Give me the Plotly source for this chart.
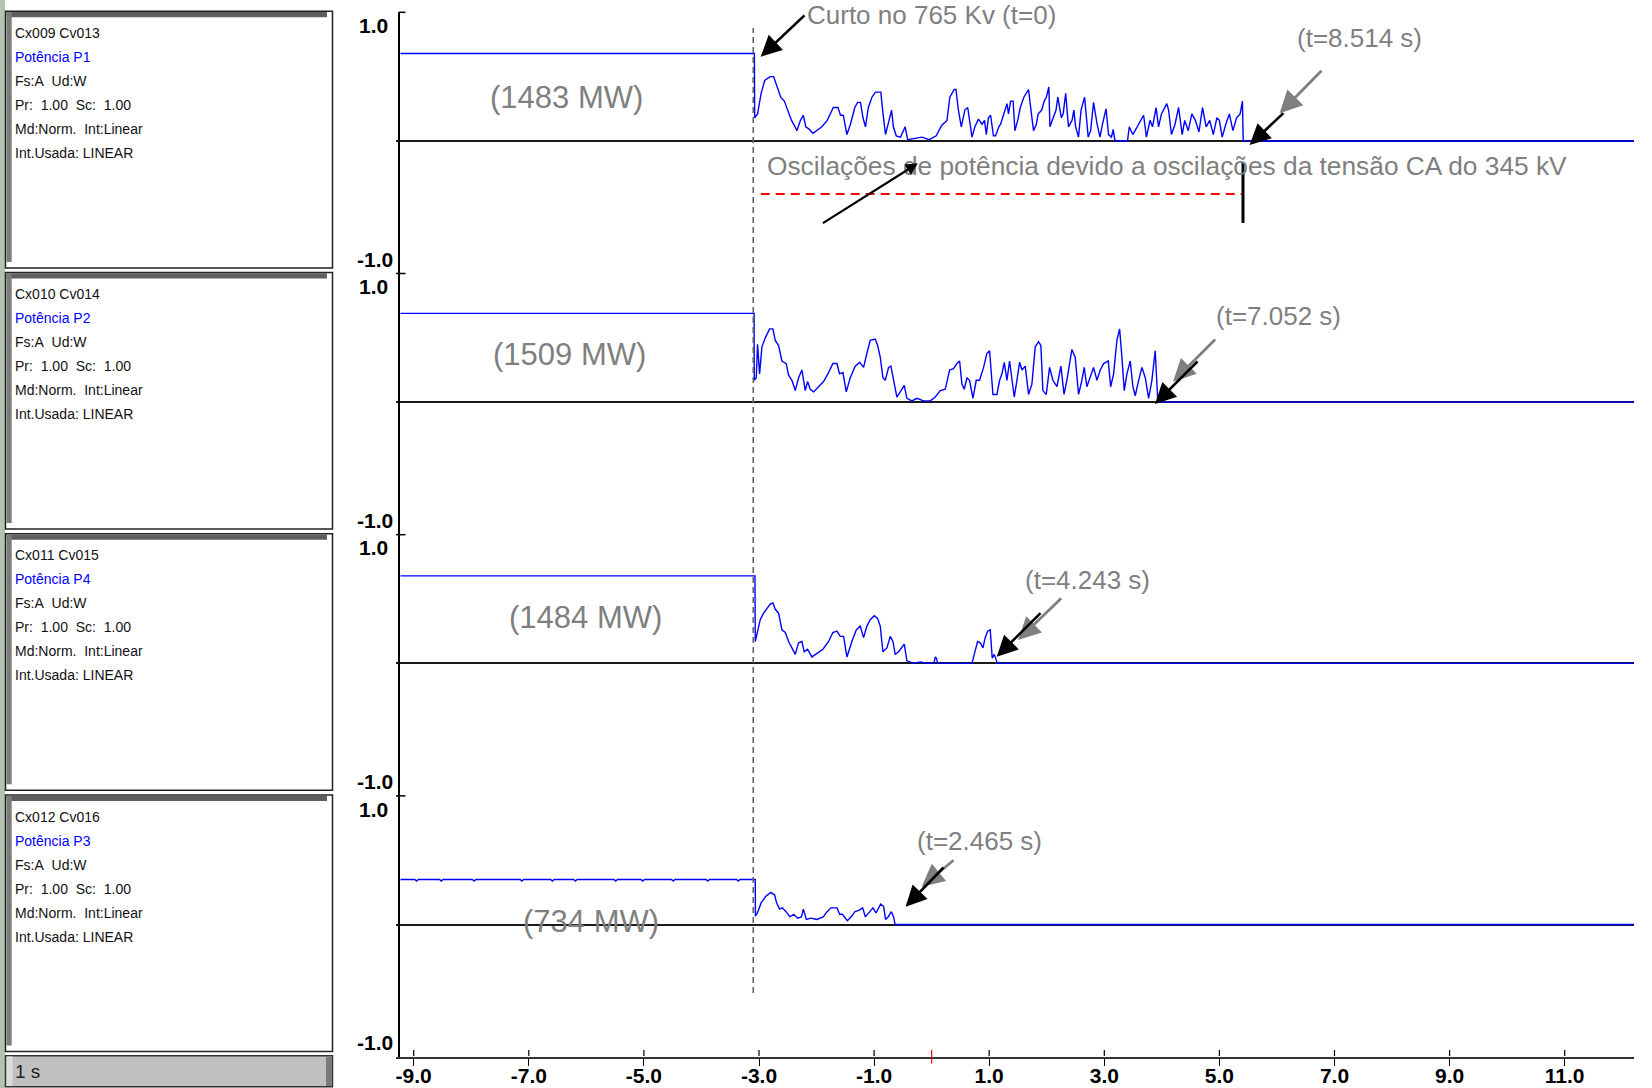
import plotly.graph_objects as go

W, H = 1652, 1088
FIG_H = 1097             # figure height used for the pixel -> paper mapping
FAULT_X = -3.10          # recorder time of the 765 kV fault (t = 0)

# ---------------- data (t in s after the fault, value in p.u. of full scale) -------------
p1_points = [(-6.13, 0.68), (0.02, 0.68), (0.025, 0.18), (0.075, 0.21), (0.137, 0.37), (0.199, 0.47),
             (0.292, 0.50), (0.354, 0.50), (0.416, 0.42), (0.478, 0.34), (0.540, 0.31), (0.602, 0.24),
             (0.665, 0.16), (0.727, 0.11), (0.758, 0.08), (0.820, 0.16), (0.870, 0.20), (0.913, 0.11),
             (0.975, 0.09), (1.037, 0.06), (1.099, 0.08), (1.193, 0.11), (1.286, 0.16), (1.391, 0.26),
             (1.472, 0.26), (1.516, 0.20), (1.565, 0.20), (1.627, 0.05), (1.689, 0.13), (1.764, 0.26),
             (1.814, 0.30), (1.863, 0.30), (1.907, 0.18), (1.950, 0.11), (2.000, 0.26), (2.062, 0.34),
             (2.124, 0.38), (2.217, 0.38), (2.248, 0.24), (2.298, 0.05), (2.360, 0.16), (2.404, 0.24),
             (2.435, 0.11), (2.484, 0.04), (2.559, 0.03), (2.640, 0.11), (2.683, 0.01), (2.807, 0.02),
             (2.932, 0.03), (3.056, 0.01), (3.180, 0.04), (3.273, 0.12), (3.366, 0.16), (3.416, 0.34),
             (3.491, 0.40), (3.522, 0.40), (3.565, 0.24), (3.615, 0.11), (3.677, 0.24), (3.727, 0.26),
             (3.770, 0.11), (3.801, 0.03), (3.851, 0.11), (3.913, 0.17), (3.975, 0.13), (4.019, 0.16),
             (4.050, 0.05), (4.087, 0.18), (4.124, 0.20), (4.174, 0.04), (4.211, 0.04), (4.267, 0.11),
             (4.298, 0.13), (4.360, 0.21), (4.410, 0.29), (4.435, 0.21), (4.472, 0.31), (4.516, 0.31),
             (4.547, 0.08), (4.596, 0.16), (4.640, 0.26), (4.702, 0.34), (4.783, 0.40), (4.826, 0.24),
             (4.870, 0.08), (4.919, 0.13), (4.950, 0.21), (5.012, 0.24), (5.056, 0.31), (5.093, 0.34),
             (5.137, 0.42), (5.155, 0.11), (5.199, 0.16), (5.261, 0.24), (5.292, 0.34), (5.354, 0.18),
             (5.385, 0.21), (5.429, 0.37), (5.478, 0.11), (5.540, 0.16), (5.571, 0.24), (5.602, 0.11),
             (5.652, 0.03), (5.696, 0.24), (5.758, 0.34), (5.820, 0.03), (5.863, 0.08), (5.913, 0.30),
             (5.975, 0.13), (6.025, 0.03), (6.068, 0.13), (6.130, 0.25), (6.174, 0.05), (6.224, 0.03),
             (6.255, 0.09), (6.286, 0.00), (6.503, 0.00), (6.534, 0.11), (6.596, 0.05), (6.689, 0.13),
             (6.783, 0.20), (6.832, 0.03), (6.894, 0.16), (6.938, 0.11), (7.000, 0.26), (7.043, 0.11),
             (7.093, 0.21), (7.186, 0.29), (7.217, 0.24), (7.267, 0.05), (7.329, 0.13), (7.391, 0.26),
             (7.453, 0.05), (7.497, 0.16), (7.559, 0.08), (7.621, 0.21), (7.683, 0.16), (7.745, 0.07),
             (7.807, 0.26), (7.870, 0.11), (7.932, 0.16), (7.994, 0.05), (8.056, 0.18), (8.099, 0.16),
             (8.149, 0.03), (8.211, 0.13), (8.273, 0.21), (8.335, 0.08), (8.398, 0.18), (8.460, 0.21),
             (8.500, 0.31), (8.514, 0.00), (15.4, 0.00)]

p2_points = [(-6.13, 0.69), (0.015, 0.69), (0.017, 0.17), (0.052, 0.19), (0.075, 0.45), (0.110, 0.22),
             (0.151, 0.43), (0.209, 0.50), (0.284, 0.57), (0.342, 0.57), (0.382, 0.48), (0.440, 0.44),
             (0.498, 0.32), (0.573, 0.30), (0.614, 0.21), (0.672, 0.17), (0.730, 0.09), (0.788, 0.19),
             (0.846, 0.25), (0.904, 0.09), (0.944, 0.16), (0.990, 0.10), (1.048, 0.08), (1.135, 0.12),
             (1.222, 0.16), (1.309, 0.23), (1.384, 0.30), (1.454, 0.30), (1.500, 0.22), (1.558, 0.23),
             (1.616, 0.08), (1.685, 0.19), (1.772, 0.28), (1.848, 0.31), (1.917, 0.27), (1.975, 0.38),
             (2.033, 0.48), (2.120, 0.49), (2.161, 0.44), (2.207, 0.35), (2.253, 0.19), (2.294, 0.17),
             (2.352, 0.27), (2.392, 0.28), (2.438, 0.17), (2.496, 0.04), (2.554, 0.08), (2.624, 0.13),
             (2.670, 0.03), (2.757, 0.01), (2.844, 0.03), (2.960, 0.01), (3.076, 0.01), (3.163, 0.04),
             (3.249, 0.09), (3.336, 0.10), (3.412, 0.25), (3.481, 0.26), (3.539, 0.30), (3.586, 0.32),
             (3.626, 0.14), (3.667, 0.10), (3.713, 0.19), (3.759, 0.17), (3.817, 0.03), (3.875, 0.17),
             (3.933, 0.17), (4.002, 0.27), (4.060, 0.38), (4.107, 0.40), (4.165, 0.06), (4.234, 0.06),
             (4.281, 0.17), (4.321, 0.22), (4.362, 0.31), (4.408, 0.17), (4.454, 0.32), (4.495, 0.19),
             (4.535, 0.04), (4.582, 0.17), (4.628, 0.31), (4.669, 0.25), (4.726, 0.28), (4.784, 0.06),
             (4.842, 0.14), (4.900, 0.43), (4.958, 0.47), (4.998, 0.44), (5.033, 0.09), (5.091, 0.06),
             (5.149, 0.27), (5.207, 0.17), (5.277, 0.12), (5.346, 0.28), (5.400, 0.06), (5.450, 0.17),
             (5.537, 0.41), (5.594, 0.35), (5.653, 0.06), (5.710, 0.17), (5.751, 0.27), (5.797, 0.12),
             (5.856, 0.19), (5.913, 0.27), (5.972, 0.17), (6.030, 0.25), (6.088, 0.30), (6.134, 0.31),
             (6.169, 0.32), (6.210, 0.12), (6.262, 0.22), (6.319, 0.48), (6.366, 0.57), (6.406, 0.35),
             (6.447, 0.09), (6.493, 0.22), (6.551, 0.32), (6.597, 0.12), (6.638, 0.05), (6.696, 0.17),
             (6.754, 0.27), (6.812, 0.19), (6.870, 0.03), (6.927, 0.17), (6.985, 0.40), (7.030, 0.00),
             (15.4, 0.00)]

p3_points = [(-6.13, 0.68), (0.030, 0.68), (0.035, 0.17), (0.075, 0.25), (0.122, 0.34), (0.180, 0.39),
             (0.237, 0.43), (0.295, 0.46), (0.342, 0.47), (0.382, 0.42), (0.440, 0.39), (0.498, 0.26),
             (0.556, 0.24), (0.614, 0.17), (0.672, 0.12), (0.730, 0.07), (0.788, 0.16), (0.846, 0.17),
             (0.886, 0.09), (0.944, 0.11), (1.019, 0.05), (1.106, 0.08), (1.211, 0.11), (1.309, 0.17),
             (1.384, 0.24), (1.454, 0.25), (1.512, 0.21), (1.570, 0.21), (1.628, 0.05), (1.714, 0.17),
             (1.790, 0.26), (1.859, 0.29), (1.917, 0.20), (1.975, 0.29), (2.033, 0.34), (2.103, 0.37),
             (2.161, 0.35), (2.207, 0.29), (2.253, 0.09), (2.323, 0.12), (2.381, 0.21), (2.427, 0.17),
             (2.467, 0.07), (2.525, 0.09), (2.583, 0.12), (2.624, 0.15), (2.670, 0.02), (2.786, 0.00),
             (2.902, 0.01), (3.018, 0.00), (3.140, 0.00), (3.163, 0.05), (3.185, 0.04), (3.203, 0.00),
             (3.800, 0.00), (3.857, 0.09), (3.898, 0.17), (3.944, 0.16), (3.991, 0.12), (4.031, 0.20),
             (4.072, 0.25), (4.118, 0.26), (4.153, 0.04), (4.188, 0.07), (4.243, 0.00), (15.4, 0.00)]

p4_points = [(-6.13, 0.35), (-5.88, 0.35), (-5.85, 0.338), (-5.82, 0.35), (-5.45, 0.35), (-5.42, 0.338),
             (-5.39, 0.35), (-4.88, 0.35), (-4.85, 0.338), (-4.82, 0.35), (-4.05, 0.35), (-4.02, 0.338),
             (-3.99, 0.35), (-3.52, 0.35), (-3.49, 0.338), (-3.46, 0.35), (-3.12, 0.35), (-3.09, 0.338),
             (-3.06, 0.35), (-2.42, 0.35), (-2.39, 0.338), (-2.36, 0.35), (-1.95, 0.35), (-1.92, 0.338),
             (-1.89, 0.35), (-1.42, 0.35), (-1.39, 0.338), (-1.36, 0.35), (-0.82, 0.35), (-0.79, 0.338),
             (-0.76, 0.35), (-0.29, 0.35), (-0.26, 0.338), (-0.23, 0.35), (0.035, 0.35),
             (0.038, 0.065), (0.072, 0.09), (0.139, 0.17), (0.219, 0.22), (0.305, 0.25), (0.372, 0.23),
             (0.405, 0.17), (0.458, 0.12), (0.504, 0.13), (0.570, 0.10), (0.637, 0.06), (0.704, 0.08),
             (0.770, 0.05), (0.837, 0.06), (0.870, 0.12), (0.923, 0.04), (1.003, 0.05), (1.103, 0.04),
             (1.216, 0.06), (1.283, 0.10), (1.349, 0.13), (1.455, 0.13), (1.501, 0.08), (1.548, 0.08),
             (1.635, 0.03), (1.701, 0.06), (1.768, 0.10), (1.835, 0.11), (1.901, 0.13), (1.948, 0.06),
             (2.001, 0.09), (2.080, 0.13), (2.134, 0.09), (2.214, 0.16), (2.267, 0.14), (2.299, 0.04),
             (2.346, 0.06), (2.399, 0.10), (2.439, 0.06), (2.465, 0.00), (15.4, 0.00)]

panels = [p1_points, p2_points, p3_points, p4_points]

x_tickvals = [-9, -7, -5, -3, -1, 1, 3, 5, 7, 9, 11]
x_ticktext = ["-9.0", "-7.0", "-5.0", "-3.0", "-1.0", "1.0", "3.0", "5.0", "7.0", "9.0", "11.0"]

channel_ids = ["Cx009 Cv013", "Cx010 Cv014", "Cx011 Cv015", "Cx012 Cv016"]
channel_names = ["Potência P1", "Potência P2", "Potência P4", "Potência P3"]
channel_info = ["Fs:A\u00a0 Ud:W", "Pr:\u00a0 1.00\u00a0 Sc:\u00a0 1.00",
                "Md:Norm.\u00a0 Int:Linear", "Int.Usada: LINEAR"]
mw_labels = ["(1483 MW)", "(1509 MW)", "(1484 MW)", "(734 MW)"]
end_labels = ["(t=8.514 s)", "(t=7.052 s)", "(t=4.243 s)", "(t=2.465 s)"]

# ---------------- geometry helpers (pixel -> paper) ----------------
def px(x):
    return x / W


def py(y):
    return 1 - y / FIG_H


PANEL_TOP = 12.3
PANEL_H = 261.2
X_LEFT_PX, X_RIGHT_PX = 396.0, 1634.0
X_PX_M9, X_PX_PER_UNIT = 413.7, 57.55
x_range = [-9 + (X_LEFT_PX - X_PX_M9) / X_PX_PER_UNIT, -9 + (X_RIGHT_PX - X_PX_M9) / X_PX_PER_UNIT]
YAXIS_PX = 399.0

GRAY = "#7f7f7f"
TICKFONT = dict(family="Liberation Sans, Arial, sans-serif", size=21, color="black")
BOXFONT = "Liberation Sans, Arial, sans-serif"
ANNFONT = "Liberation Sans, Arial, sans-serif"

fig = go.Figure()
layout_axes = {}
for k, pts in enumerate(panels):
    yname = "y" if k == 0 else f"y{k + 1}"
    fig.add_trace(go.Scatter(
        x=[FAULT_X + t for t, _ in pts], y=[v for _, v in pts],
        mode="lines", line=dict(color="#0000ff", width=1.4),
        xaxis="x", yaxis=yname, hoverinfo="skip", showlegend=False))
    top = PANEL_TOP + k * PANEL_H
    layout_axes["yaxis" if k == 0 else f"yaxis{k + 1}"] = dict(
        domain=[py(top + PANEL_H), py(top)], range=[-1.03, 1.0],
        anchor="free", position=px(YAXIS_PX),
        showline=True, linecolor="black", linewidth=1.5,
        zeroline=True, zerolinecolor="#1a1a1a", zerolinewidth=1.6,
        showgrid=False, showticklabels=False, ticks="", fixedrange=True)

shapes = []
annotations = []

# left strip
shapes.append(dict(type="rect", xref="paper", yref="paper", x0=0, x1=px(5), y0=0, y1=1,
                   fillcolor="#b4c3b4", line=dict(width=0), layer="below"))

# channel boxes
for k in range(4):
    top = PANEL_TOP - 1 + k * PANEL_H
    bot = top + 256.6
    shapes.append(dict(type="rect", xref="paper", yref="paper", x0=px(5.5), x1=px(332.5),
                       y0=py(bot), y1=py(top), fillcolor="white", line=dict(color="#222", width=1.5),
                       layer="below"))
    shapes.append(dict(type="rect", xref="paper", yref="paper", x0=px(6.5), x1=px(327),
                       y0=py(top + 6), y1=py(top + 0.8), fillcolor="#5f5f5f", line=dict(width=0),
                       layer="below"))
    shapes.append(dict(type="rect", xref="paper", yref="paper", x0=px(6.5), x1=px(11.7),
                       y0=py(bot - 6), y1=py(top + 0.8), fillcolor="#7c7c7c", line=dict(width=0),
                       layer="below"))
    lines = [channel_ids[k], channel_names[k]] + channel_info
    for i, txt in enumerate(lines):
        annotations.append(dict(x=px(12.5), y=py(top + 21.7 + 24 * i), xref="paper", yref="paper",
                                text=txt, showarrow=False, xanchor="left", yanchor="middle",
                                font=dict(family=BOXFONT, size=14,
                                          color="#0000ff" if i == 1 else "#111111")))

# "1 s" bar
shapes.append(dict(type="rect", xref="paper", yref="paper", x0=px(5.5), x1=px(332.5),
                   y0=py(1086.7), y1=py(1055.7), fillcolor="#c0c0c0", line=dict(color="#333", width=1.5),
                   layer="below"))
shapes.append(dict(type="rect", xref="paper", yref="paper", x0=px(326), x1=px(331.8),
                   y0=py(1086), y1=py(1056.5), fillcolor="#7a7a7a", line=dict(width=0), layer="below"))
shapes.append(dict(type="rect", xref="paper", yref="paper", x0=px(6.5), x1=px(12.5),
                   y0=py(1086), y1=py(1056.5), fillcolor="#dcdcdc", line=dict(width=0), layer="below"))
annotations.append(dict(x=px(13), y=py(1071), xref="paper", yref="paper", text="1 s",
                        showarrow=False, xanchor="left", yanchor="middle",
                        font=dict(family="Liberation Sans, Arial, sans-serif", size=19, color="#222")))

# y tick marks and labels
for k in range(4):
    top = PANEL_TOP + k * PANEL_H
    shapes.append(dict(type="line", xref="paper", yref="paper", x0=px(396 if k else 399), x1=px(405.5),
                       y0=py(top), y1=py(top), line=dict(color="black", width=1.5)))
    annotations.append(dict(x=px(390), y=py(top + 13.3), xref="paper", yref="paper", text="<b>1.0</b>",
                            showarrow=False, xanchor="right", yanchor="middle", font=TICKFONT))
    annotations.append(dict(x=px(395), y=py(top + PANEL_H - 14.4), xref="paper", yref="paper",
                            text="<b>-1.0</b>", showarrow=False, xanchor="right", yanchor="middle",
                            font=TICKFONT))

# x tick marks above the axis line + red zero tick
for v in x_tickvals:
    shapes.append(dict(type="line", xref="x", yref="paper", x0=v, x1=v, y0=py(1056), y1=py(1050),
                       line=dict(color="black", width=1.2)))
shapes.append(dict(type="line", xref="x", yref="paper", x0=0, x1=0, y0=py(1063.5), y1=py(1050),
                   line=dict(color="#ff0000", width=1.2)))

# fault instant dashed line
shapes.append(dict(type="line", xref="x", yref="paper", x0=FAULT_X, x1=FAULT_X, y0=py(993), y1=py(28),
                   line=dict(color="#666666", width=1.6, dash="6px,4px")))

# red dashed line + black bar (oscillation span)
shapes.append(dict(type="line", xref="paper", yref="paper", x0=px(760.7), x1=px(1243), y0=py(194),
                   y1=py(194), line=dict(color="#ff0000", width=2, dash="9px,6px")))
shapes.append(dict(type="line", xref="paper", yref="paper", x0=px(1243), x1=px(1243), y0=py(223),
                   y1=py(163), line=dict(color="black", width=3)))

# texts
def text_ann(x, y, txt, size=26, anchor="center"):
    annotations.append(dict(x=px(x), y=py(y), xref="paper", yref="paper", text=txt, showarrow=False,
                            xanchor=anchor, yanchor="middle", font=dict(family=ANNFONT, size=size,
                                                                          color=GRAY)))


def arrow(tail, tip, color="black", width=2.6, size=1.6):
    annotations.append(dict(x=px(tip[0]), y=py(tip[1]), xref="paper", yref="paper", text="",
                            showarrow=True, ax=tail[0] - tip[0], ay=tail[1] - tip[1],
                            axref="pixel", ayref="pixel", arrowhead=2, arrowsize=size,
                            arrowwidth=width, arrowcolor=color, standoff=0, startstandoff=0,
                            font=dict(size=1)))


mw_pos = [(566, 98), (569, 355), (585, 617), (590.6, 921.5)]
for (x, y), lab in zip(mw_pos, mw_labels):
    text_ann(x, y, lab, size=31)

end_pos = [(1359.7, 38), (1278.3, 316), (1087.5, 579.5), (979.5, 840.5)]
for (x, y), lab in zip(end_pos, end_labels):
    text_ann(x, y, lab, size=26)

text_ann(804.5, 14.5, "Curto no 765 Kv (t=0)", size=26, anchor="left")
text_ann(764.5, 165.5, "Oscilações de potência devido a oscilações da tensão CA do 345 kV", size=26.3,
         anchor="left")

# arrows
arrow((806, 14), (760.7, 56.7))
arrow((821.4, 224), (917.9, 163.3), width=2.2, size=1.1)
# panel 1
arrow((1322.9, 69.3), (1279.6, 113.3), color=GRAY, width=2.8)
arrow((1284.9, 111.7), (1249.6, 145))
# panel 2
arrow((1216.7, 338), (1173, 381.7), color=GRAY, width=2.8)
arrow((1199, 360), (1155, 404))
# panel 3
arrow((1062.7, 596.7), (1018, 640), color=GRAY, width=2.8)
arrow((1042, 611.7), (996.7, 656.7))
# panel 4
arrow((955, 859), (921.7, 886.7), color=GRAY, width=2.8)
arrow((945, 866), (905.6, 906.7))

fig.update_layout(
    width=W, height=FIG_H, margin=dict(l=0, r=0, t=0, b=0),
    paper_bgcolor="white", plot_bgcolor="white", showlegend=False,
    xaxis=dict(domain=[px(X_LEFT_PX), px(X_RIGHT_PX)], range=x_range, anchor="y4",
               showline=True, linecolor="#333333", linewidth=2.2,
               tickmode="array", tickvals=x_tickvals, ticktext=[f"<b>{t}</b>" for t in x_ticktext],
               ticks="outside", ticklen=7, tickwidth=1.2, tickcolor="black", ticklabelstandoff=-8,
               tickfont=TICKFONT, showgrid=False, zeroline=False, fixedrange=True),
    shapes=shapes, annotations=annotations,
    **layout_axes)

fig.write_html("out.html")
